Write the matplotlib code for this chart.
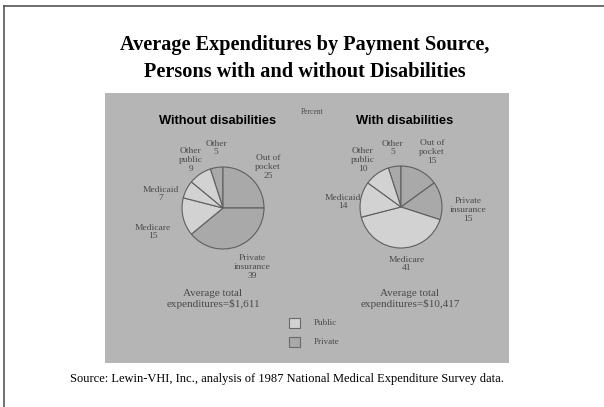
import numpy as np
import matplotlib.pyplot as plt
import matplotlib.patches as ptc

# data
slices = ['Other', 'Out of\npocket', 'Private\ninsurance', 'Medicare', 'Medicaid', 'Other\npublic']
without_dis = [5, 25, 39, 15, 7, 9]
with_dis = [5, 15, 15, 41, 14, 10]
payer = ['Private', 'Private', 'Private', 'Public', 'Public', 'Public']
avg_total = ['$1,611', '$10,417']
panel_titles = ['Without disabilities', 'With disabilities']

W, H = 604, 407
def Y(y):
    # image row -> data y (y axis points up so the pies keep their direction)
    return H - y

colors = {'Public': '#d2d2d2', 'Private': '#a9a9a9'}
serif = ['Liberation Serif', 'DejaVu Serif']
sans = ['Liberation Sans', 'DejaVu Sans']
lab_col = '#4a4a4a'

fig = plt.figure(figsize=(6.04, 4.07), dpi=100)
ax = fig.add_axes([0, 0, 1, 1])
ax.set_xlim(0, W)
ax.set_ylim(0, H)
ax.axis('off')

# slide frame (left and top edge only visible)
ax.plot([4, 4], [Y(6), Y(407)], color='#555555', lw=1.2)
ax.plot([4, 604], [Y(6), Y(6)], color='#555555', lw=1.2)

# grey photo panel
ax.add_patch(ptc.Rectangle((105, Y(363)), 404, 270, facecolor='#b5b5b5', edgecolor='none', zorder=0))

ax.text(305, Y(45), 'Average Expenditures by Payment Source,', ha='center', va='center',
        fontsize=14.6, fontweight='bold', family=serif)
ax.text(305, Y(72), 'Persons with and without Disabilities', ha='center', va='center',
        fontsize=14.6, fontweight='bold', family=serif)

ax.text(312, Y(112), 'Percent', ha='center', va='center', fontsize=5.5, color=lab_col, family=serif)

centers = [(223, Y(208)), (401, Y(207))]
series = [without_dis, with_dis]
head_x = [218, 405]
label_pos = [
    [(216, 148), (268, 167), (252, 267), (153, 232), (161, 194), (191, 160)],
    [(393, 148), (432, 152), (468, 210), (407, 264), (343, 202), (363, 160)],
]
avg_x = [213, 410]

for k in range(2):
    wc = [colors[p] for p in payer]
    ax.pie(series[k], colors=wc, startangle=108, counterclock=False, center=centers[k],
           radius=41, frame=True,
           wedgeprops=dict(edgecolor='#5f5f5f', linewidth=0.8))
    ax.text(head_x[k], Y(121), panel_titles[k], ha='center', va='center', fontsize=9.3,
            fontweight='bold', family=sans)
    for (lx, ly), name, v in zip(label_pos[k], slices, series[k]):
        ax.text(lx, Y(ly), name + '\n' + str(v), ha='center', va='center', fontsize=6.8,
                color=lab_col, family=serif, linespacing=1.15)
    ax.text(avg_x[k], Y(299), 'Average total\nexpenditures=' + avg_total[k], ha='center',
            va='center', fontsize=8, color=lab_col, family=serif, linespacing=1.05)

ax.set_xlim(0, W)
ax.set_ylim(0, H)
ax.set_aspect('auto')

# legend
for i, p in enumerate(['Public', 'Private']):
    yy = 323 + i * 19
    ax.add_patch(ptc.Rectangle((289, Y(yy) - 5), 11, 10, facecolor=colors[p],
                               edgecolor='#6a6a6a', lw=0.8))
    ax.text(314, Y(yy), p, ha='left', va='center', fontsize=6.5, color=lab_col, family=serif)

ax.text(287, Y(379), 'Source: Lewin-VHI, Inc., analysis of 1987 National Medical Expenditure Survey data.',
        ha='center', va='center', fontsize=9, family=serif)

fig.savefig('out.png', dpi=100)
